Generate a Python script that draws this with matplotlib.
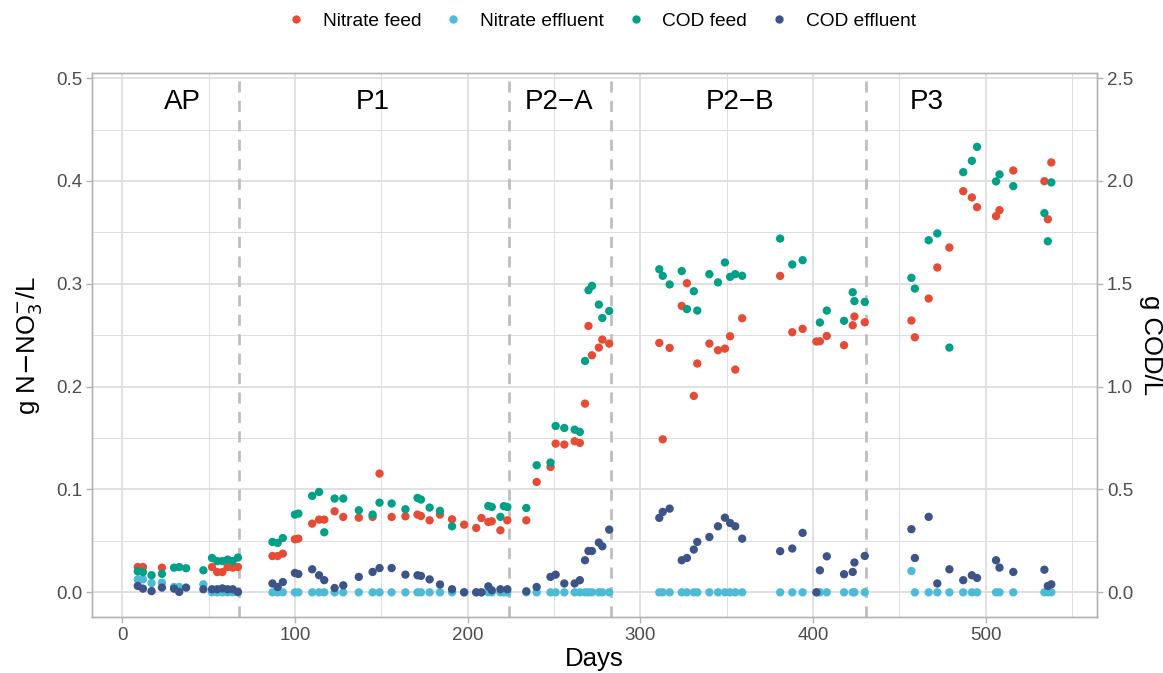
import numpy as np
import matplotlib
matplotlib.use("Agg")
import matplotlib.pyplot as plt
from matplotlib.ticker import MultipleLocator
from matplotlib.lines import Line2D

plt.rcParams['font.family'] = ['Liberation Sans', 'DejaVu Sans']

nan = np.nan

# dias de muestreo
days = [9, 12, 17, 23, 30, 33, 37, 47, 52, 55, 58, 61, 64, 67,
        87, 90, 93, 100, 102, 110, 114, 117, 123, 128, 137, 145, 149, 156,
        164, 171, 173, 178, 184, 191, 198, 205, 208, 212, 214, 219, 221, 223,
        234, 240, 248, 251, 256, 262, 265, 268, 270, 272, 276, 278, 282,
        311, 313, 317, 324, 327, 331, 333, 340, 345, 349, 352, 355, 359,
        381, 388, 394, 402, 404, 408, 418, 423, 424, 430,
        457, 459, 467, 472, 479, 487, 492, 495, 506, 508, 516, 534, 536, 538]

# g N-NO3/L
nitrate_feed = [0.0246, 0.0246, nan, 0.024, nan, nan, nan, nan, 0.0246, 0.0197, 0.0197, 0.0246, 0.024, 0.0246,
                0.0353, 0.0353, 0.0376, 0.0516, 0.0522, 0.0668, 0.0707, 0.0707, 0.0788, 0.0733, 0.0726, 0.0733, 0.1155, 0.0733,
                0.0739, 0.0756, 0.0742, 0.070, 0.0756, 0.071, 0.0658, 0.0626, 0.0723, 0.0684, 0.0691, 0.0603, nan, 0.070,
                0.070, 0.1073, 0.1219, 0.1446, 0.1437, 0.1469, 0.1453, 0.1835, 0.259, 0.2305, 0.238, 0.2458, 0.2419,
                0.2425, 0.1488, 0.2377, 0.2785, 0.3006, 0.191, 0.2225, 0.2419, 0.2354, 0.237, 0.249, 0.2166, 0.2665,
                0.3077, 0.2529, 0.2562, 0.2439, 0.2442, 0.2493, 0.2403, 0.2597, 0.2682, 0.2626,
                0.2643, 0.248, 0.2857, 0.3159, 0.3353, 0.3901, 0.384, 0.3745, 0.3658, 0.3716, 0.4102, 0.3998, 0.3628, 0.418]

nitrate_effluent = [0.0126, 0.0126, 0.009, 0.0094, 0.0052, 0.0052, nan, 0.0078, 0, 0, 0, 0, 0, 0,
                    0, 0, 0, 0, 0, 0, 0, 0, 0, 0, 0, 0, 0, 0,
                    0, 0, 0, 0, 0, 0, 0, 0, 0, 0, 0, 0, 0, 0,
                    0, 0, 0, 0, 0, 0, 0, 0, 0, 0, 0, 0, 0,
                    0, 0, 0, 0, 0, 0, 0, 0, 0, 0, 0, 0, 0,
                    0, 0, 0, 0, 0, 0, 0, 0, 0, 0,
                    0.0207, 0, 0, 0, 0, 0, 0, 0, 0, 0, 0, 0, 0, 0]

# g COD/L
cod_feed = [0.102, 0.098, 0.083, 0.090, 0.120, 0.123, 0.117, 0.107, 0.167, 0.152, 0.152, 0.159, 0.152, 0.169,
            0.245, 0.240, 0.264, 0.378, 0.383, 0.469, 0.488, 0.292, 0.456, 0.456, 0.399, 0.378, 0.436, 0.432,
            0.404, 0.459, 0.451, 0.412, 0.396, 0.321, nan, nan, nan, 0.420, 0.415, 0.367, 0.419, 0.415,
            0.410, 0.618, 0.631, 0.809, 0.799, 0.791, 0.780, 1.125, 1.469, 1.490, 1.399, 1.334, 1.368,
            1.571, 1.539, 1.497, 1.562, 1.377, 1.464, 1.370, 1.547, 1.507, 1.604, 1.534, 1.547, 1.539,
            1.720, 1.594, 1.615, nan, 1.312, 1.370, 1.320, 1.459, 1.416, 1.412,
            1.529, 1.477, 1.712, 1.745, 1.190, 2.043, 2.098, 2.166, 1.998, 2.032, 1.975, 1.844, 1.707, 1.993]

cod_effluent = [0.031, 0.018, 0.006, 0.023, 0.018, 0.002, 0.023, 0.015, 0.015, 0.015, 0.019, 0.015, 0.015, 0.002,
                0.043, 0.026, 0.050, 0.094, 0.089, 0.112, 0.083, 0.059, 0.021, 0.034, 0.075, 0.099, 0.118, 0.118,
                0.086, 0.083, 0.080, 0.063, 0.038, 0.015, 0.0, 0.0, 0.0, 0.029, 0.010, 0.015, nan, 0.015,
                0.005, 0.026, 0.075, 0.086, 0.043, 0.043, 0.059, 0.156, 0.201, 0.201, 0.242, 0.224, 0.305,
                0.362, 0.391, 0.407, 0.156, 0.167, 0.208, 0.245, 0.269, 0.321, 0.363, 0.337, 0.321, 0.261,
                0.200, 0.213, 0.289, 0.0, 0.107, 0.175, 0.088, 0.099, 0.145, 0.177,
                0.307, 0.167, 0.367, 0.043, 0.112, 0.059, 0.083, 0.070, 0.156, 0.120, 0.099, 0.110, 0.031, 0.039]

# fases
phase_limits = [67.7, 224, 283, 430.5]
phase_names = ["AP", "P1", "P2\u2212A", "P2\u2212B", "P3"]
phase_x = [35, 145, 253, 358, 466]

colors = {"Nitrate feed": "#E64B35", "Nitrate effluent": "#4DBBD5",
          "COD feed": "#00A087", "COD effluent": "#3C5488"}

border = "#B3B3B3"
grid = "#DEDEDE"
txt = "#4D4D4D"

fig = plt.figure(figsize=(11.63, 6.73), dpi=100)
fig.subplots_adjust(left=0.0791, right=0.9433, bottom=0.0832, top=0.8915)
ax = fig.add_subplot(111)
ax2 = ax.twinx()

ax.set_xlim(-17.5, 564.5)
ax.set_ylim(-0.024, 0.505)
ax2.set_ylim(-0.024 * 5, 0.505 * 5)

ax.xaxis.set_major_locator(MultipleLocator(100))
ax.xaxis.set_minor_locator(MultipleLocator(50))
ax.yaxis.set_major_locator(MultipleLocator(0.1))
ax.yaxis.set_minor_locator(MultipleLocator(0.05))
ax2.yaxis.set_major_locator(MultipleLocator(0.5))
ax2.yaxis.set_minor_locator(MultipleLocator(0.25))

ax.grid(which='major', color=grid, linewidth=1.3)
ax.grid(which='minor', color=grid, linewidth=0.7)
ax.set_axisbelow(True)

for a in (ax, ax2):
    for s in a.spines.values():
        s.set_color(border)
        s.set_linewidth(1.0)
    a.tick_params(which='major', length=4, width=1.0, color=border,
                  labelsize=13.5, labelcolor=txt, pad=3)
    a.tick_params(which='minor', length=0)

ax.yaxis.set_major_formatter(plt.FuncFormatter(lambda v, p: f"{v:.1f}"))
ax2.yaxis.set_major_formatter(plt.FuncFormatter(lambda v, p: f"{v:.1f}"))

for xl in phase_limits:
    ax.axvline(xl, color="#BEBEBE", linestyle=(0, (4, 3)), linewidth=2, zorder=1)
for name, xp in zip(phase_names, phase_x):
    ax.text(xp, 0.477, name, ha='center', va='center', fontsize=20, color='black')

ms = 36
ax.scatter(days, nitrate_feed, s=ms, color=colors["Nitrate feed"], edgecolors='none', zorder=3)
ax.scatter(days, nitrate_effluent, s=ms, color=colors["Nitrate effluent"], edgecolors='none', zorder=3)
ax2.scatter(days, cod_feed, s=ms, color=colors["COD feed"], edgecolors='none', zorder=3)
ax2.scatter(days, cod_effluent, s=ms, color=colors["COD effluent"], edgecolors='none', zorder=3)

ax.set_xlabel("Days", fontsize=18.5, labelpad=2)
ax.set_ylabel(r"g N$-$NO$_3^{-}$/L", fontsize=18.5, labelpad=8)
ax2.set_ylabel("g COD/L", fontsize=18.5, rotation=-90, labelpad=4, va='bottom')

handles = [Line2D([], [], linestyle='none', marker='o', markersize=6,
                  markerfacecolor=c, markeredgecolor='none') for c in colors.values()]
fig.legend(handles, list(colors.keys()), loc='center', bbox_to_anchor=(0.516, 0.969),
           ncol=4, frameon=False, fontsize=13.8, handlelength=1.2, handletextpad=0.8,
           columnspacing=1.07)

fig.savefig("out.png", dpi=100)
